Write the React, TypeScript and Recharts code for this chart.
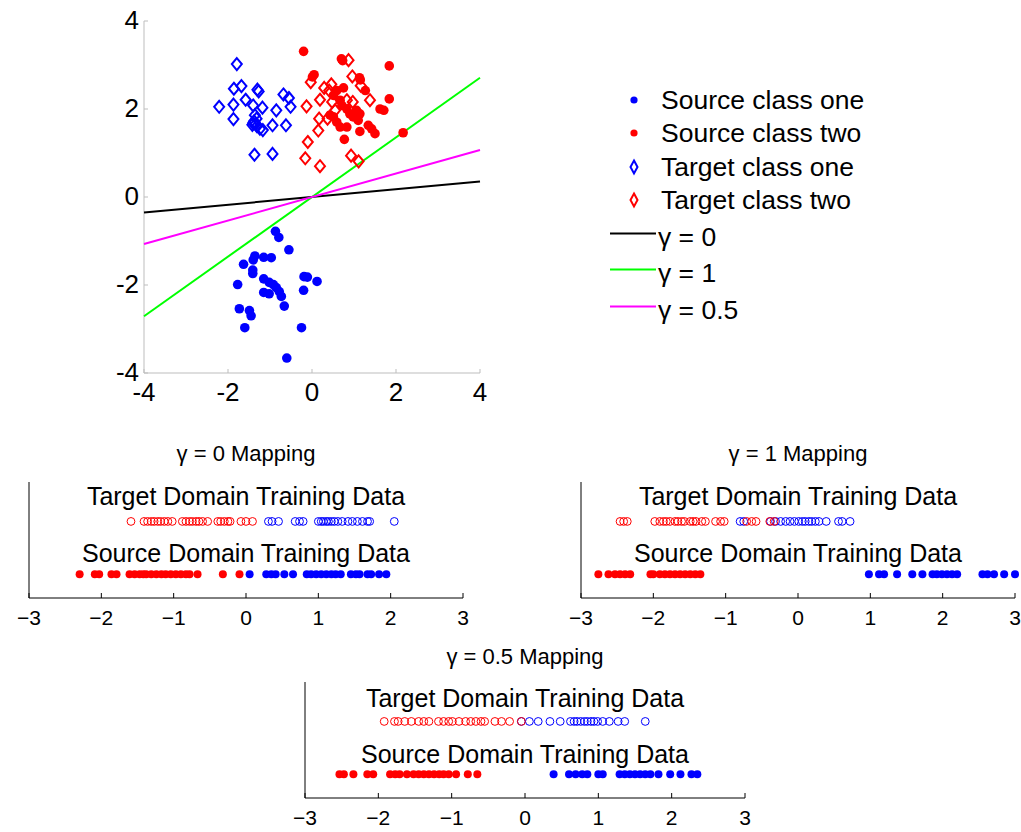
import React from 'react';
import { Legend, ReferenceLine, Scatter, ScatterChart, XAxis, YAxis } from 'recharts';

const FONT = '"Liberation Sans", Arial, Helvetica, sans-serif';
const BLUE = '#0000ff';
const RED = '#ff0000';
const GREEN = '#00ff00';
const MAGENTA = '#ff00ff';
const AXIS_GRAY = '#bdbdbd';

type Pt = [number, number];

// ---- 2-D source / target samples ----
const sourceClassOne: Pt[] = [
  [-0.87, -0.78], [-0.79, -0.92], [-0.55, -1.2], [-1.36, -1.34], [-1.4, -1.43],
  [-1.15, -1.37], [-0.97, -1.38], [-1.63, -1.53], [-1.41, -1.66], [-1.41, -1.74],
  [-1.15, -1.86], [-1.02, -1.94], [-0.92, -1.99], [-0.85, -2.06], [-0.78, -2.15],
  [-0.73, -2.26], [-1.15, -2.17], [-1.02, -2.2], [-1.77, -1.99], [-0.19, -1.81],
  [-0.11, -1.82], [0.12, -1.92], [-0.2, -2.12], [-1.73, -2.54], [-1.49, -2.58],
  [-1.45, -2.7], [-0.66, -2.48], [-1.6, -2.97], [-0.25, -2.97], [-0.6, -3.66],
];

const sourceClassTwo: Pt[] = [
  [-0.2, 3.31], [0.05, 2.78], [0.01, 2.73], [0.7, 3.14], [0.73, 3.1],
  [1.13, 2.71], [1.15, 2.66], [1.27, 2.42], [1.84, 2.98], [1.84, 2.23],
  [0.75, 2.48], [0.59, 2.42], [0.51, 2.31], [0.67, 2.2], [0.71, 2.08],
  [0.83, 2.0], [0.9, 1.89], [1.06, 1.97], [1.14, 1.89], [0.51, 1.82],
  [0.59, 1.7], [0.67, 1.59], [0.83, 1.59], [1.1, 1.74], [1.34, 1.63],
  [1.42, 1.55], [1.5, 1.44], [1.14, 1.49], [0.77, 1.31], [1.62, 2.0],
  [1.71, 1.97], [2.17, 1.46], [0.43, 1.86], [0.98, 1.82],
];

const targetClassOne: Pt[] = [
  [-1.79, 3.02], [-1.86, 2.46], [-1.68, 2.52], [-1.58, 2.21], [-1.3, 2.44],
  [-1.27, 2.4], [-0.68, 2.33], [-0.55, 2.25], [-0.51, 2.05], [-0.85, 1.97],
  [-1.18, 2.03], [-1.4, 2.08], [-2.21, 2.05], [-1.87, 2.1], [-1.87, 1.77],
  [-1.36, 1.86], [-1.32, 1.78], [-1.4, 1.68], [-1.24, 1.55], [-1.17, 1.52],
  [-0.94, 1.63], [-0.62, 1.63], [-1.37, 0.96], [-0.94, 0.98], [-1.38, 1.72],
  [-1.34, 1.66], [-1.42, 1.64], [-1.31, 1.61],
];

const targetClassTwo: Pt[] = [
  [0.87, 3.11], [-0.03, 2.61], [0.29, 2.48], [0.46, 2.56], [0.41, 2.42],
  [0.96, 2.74], [1.16, 2.53], [1.38, 2.2], [0.19, 2.21], [0.48, 2.16],
  [-0.13, 2.06], [0.97, 2.16], [0.37, 1.78], [0.17, 1.78], [0.15, 1.51],
  [-0.1, 1.25], [-0.16, 0.88], [0.19, 0.7], [0.93, 0.94], [1.11, 0.81],
  [0.55, 1.97], [0.83, 2.2],
];

// decision directions for the three γ settings
const gammaZeroLine: Pt[] = [[-4, -0.35], [4, 0.35]];
const gammaOneLine: Pt[] = [[-4, -2.71], [4, 2.71]];
const gammaHalfLine: Pt[] = [[-4, -1.07], [4, 1.07]];

const mainTicks = [-4, -2, 0, 2, 4];

// ---- 1-D projections ----
const stripTicks = [-3, -2, -1, 0, 1, 2, 3];
const TARGET_ROW = 0.66;
const SOURCE_ROW = 0.205;

const g0TargetRed = [
  -1.59, -1.41, -1.36, -1.31, -1.27, -1.22, -1.18, -1.13, -1.08, -1.02, -0.88, -0.83, -0.78,
  -0.74, -0.69, -0.65, -0.6, -0.53, -0.39, -0.35, -0.3, -0.25, -0.22, -0.07, 0.0, 0.09,
];
const g0TargetBlue = [
  0.31, 0.36, 0.45, 0.68, 0.74, 0.79, 1.0, 1.04, 1.07, 1.11, 1.14, 1.18, 1.22, 1.27, 1.33,
  1.41, 1.47, 1.54, 1.61, 1.68, 1.71, 2.05,
];
const g0SourceRed = [
  -2.3, -2.09, -2.03, -1.86, -1.79, -1.61, -1.54, -1.47, -1.42, -1.38, -1.31, -1.24, -1.17,
  -1.11, -1.04, -0.97, -0.9, -0.83, -0.78, -0.67, -0.32, -0.09,
];
const g0SourceBlue = [
  0.05, 0.28, 0.35, 0.41, 0.53, 0.65, 0.84, 0.9, 0.97, 1.04, 1.11, 1.18, 1.24, 1.31, 1.45,
  1.52, 1.57, 1.68, 1.73, 1.84, 1.94,
];

const g1TargetRed = [
  -2.46, -2.41, -2.36, -1.98, -1.91, -1.86, -1.82, -1.77, -1.7, -1.66, -1.61, -1.57, -1.49,
  -1.45, -1.41, -1.33, -1.28, -1.14, -1.07, -1.02, -0.71, -0.64, -0.58, -0.39, -0.33,
];
const g1TargetBlue = [
  -0.8, -0.75, -0.38, -0.31, -0.24, -0.17, -0.11, -0.05, 0.01, 0.06, 0.1, 0.15, 0.19, 0.24,
  0.29, 0.39, 0.56, 0.61, 0.72,
];
const g1SourceRed = [
  -2.76, -2.62, -2.53, -2.46, -2.39, -2.32, -2.04, -2.0, -1.91, -1.84, -1.77, -1.7, -1.63,
  -1.56, -1.49, -1.42, -1.35,
];
const g1SourceBlue = [
  0.98, 1.12, 1.19, 1.37, 1.58, 1.72, 1.86, 1.92, 1.99, 2.06, 2.13, 2.2, 2.55, 2.62, 2.71,
  2.85, 3.0,
];

const g05TargetRed = [
  -1.92, -1.78, -1.73, -1.64, -1.55, -1.45, -1.38, -1.31, -1.18, -1.11, -1.04, -0.99, -0.9,
  -0.81, -0.74, -0.67, -0.6, -0.55, -0.41, -0.32, -0.21, -0.05,
];
const g05TargetBlue = [
  -0.05, 0.06, 0.18, 0.34, 0.48, 0.62, 0.67, 0.71, 0.76, 0.81, 0.85, 0.9, 0.94, 0.99, 1.06,
  1.15, 1.27, 1.36, 1.64,
];
const g05SourceRed = [
  -2.53, -2.47, -2.34, -2.15, -2.07, -1.84, -1.77, -1.71, -1.61, -1.52, -1.45, -1.38, -1.31,
  -1.24, -1.17, -1.11, -1.04, -0.94, -0.78, -0.65,
];
const g05SourceBlue = [
  0.39, 0.6, 0.69, 0.78, 0.85, 1.0, 1.06, 1.29, 1.36, 1.43, 1.5, 1.57, 1.64, 1.71, 1.82, 1.98,
  2.12, 2.27, 2.35,
];

const toXY = (pts: Pt[]) => pts.map(([x, y]) => ({ x, y }));
const onRow = (xs: number[], y: number) => xs.map((x) => ({ x, y }));
const minus = (v: number) => (v < 0 ? `\u2212${-v}` : `${v}`);

// ---- marker shapes ----
const dot = (r: number, color: string) => (p: any) => (
  <circle cx={p.cx} cy={p.cy} r={r} fill={color} />
);
const ring = (r: number, color: string) => (p: any) => (
  <circle cx={p.cx} cy={p.cy} r={r} fill="none" stroke={color} strokeWidth={1} />
);
const diamond = (color: string) => (p: any) => (
  <polygon
    points={`${p.cx},${p.cy - 6} ${p.cx + 5},${p.cy} ${p.cx},${p.cy + 6} ${p.cx - 5},${p.cy}`}
    fill="none"
    stroke={color}
    strokeWidth={2}
  />
);
const noMarker = () => <g />;

// ---- axis ticks (drawn pointing into the plot) ----
function MainXTick({ x, y, payload }: any) {
  return (
    <g>
      <line x1={x} y1={y} x2={x} y2={y - 4} stroke={AXIS_GRAY} />
      <text x={x} y={y + 28} textAnchor="middle" fontSize={26} fontFamily={FONT} fill="#000">
        {payload.value}
      </text>
    </g>
  );
}

function MainYTick({ x, y, payload }: any) {
  return (
    <g>
      <line x1={x} y1={y} x2={x + 4} y2={y} stroke={AXIS_GRAY} />
      <text x={x - 5} y={y + 8} textAnchor="end" fontSize={26} fontFamily={FONT} fill="#000">
        {payload.value}
      </text>
    </g>
  );
}

function StripTick({ x, y, payload }: any) {
  return (
    <g>
      <line x1={x} y1={y} x2={x} y2={y - 5} stroke="#000" />
      <text x={x} y={y + 27} textAnchor="middle" fontSize={21} fontFamily={FONT} fill="#000">
        {minus(payload.value)}
      </text>
    </g>
  );
}

// ---- legend ----
const LEGEND_LEFT = 600;
const LEGEND_TOP = 80;

const markerRows = [
  { label: 'Source class one', y: 100, kind: 'dot', color: BLUE },
  { label: 'Source class two', y: 133, kind: 'dot', color: RED },
  { label: 'Target class one', y: 167, kind: 'diamond', color: BLUE },
  { label: 'Target class two', y: 200, kind: 'diamond', color: RED },
];
const lineRows = [
  { label: '\u03b3 = 0', y: 237, color: '#000' },
  { label: '\u03b3 = 1', y: 273, color: GREEN },
  { label: '\u03b3 = 0.5', y: 310, color: MAGENTA },
];

function LegendBox() {
  const text: React.CSSProperties = {
    position: 'absolute',
    fontSize: 26.5,
    lineHeight: '30px',
    fontFamily: FONT,
    color: '#000',
    whiteSpace: 'nowrap',
  };
  return (
    <div style={{ position: 'relative', width: 300, height: 250 }}>
      {markerRows.map((r) => (
        <div key={r.label}>
          <svg
            width={20}
            height={30}
            style={{ position: 'absolute', left: 24, top: r.y - LEGEND_TOP - 15 }}
          >
            {r.kind === 'dot' ? (
              <circle cx={10} cy={15} r={3.6} fill={r.color} />
            ) : (
              <polygon points="10,8.5 13.5,15 10,21.5 6.5,15" fill="none" stroke={r.color} strokeWidth={2} />
            )}
          </svg>
          <span style={{ ...text, left: 61, top: r.y - LEGEND_TOP - 15 }}>{r.label}</span>
        </div>
      ))}
      {lineRows.map((r) => (
        <div key={r.label}>
          <svg
            width={46}
            height={30}
            style={{ position: 'absolute', left: 10, top: r.y - LEGEND_TOP - 15 }}
          >
            <line x1={0} y1={11.5} x2={46} y2={11.5} stroke={r.color} strokeWidth={2} />
          </svg>
          <span style={{ ...text, left: 58, top: r.y - LEGEND_TOP - 15 }}>{r.label}</span>
        </div>
      ))}
    </div>
  );
}

function MainScatter() {
  return (
    <ScatterChart width={900} height={420} margin={{ top: 21, right: 420, bottom: 7, left: 84 }}>
      <XAxis
        type="number"
        dataKey="x"
        domain={[-4, 4]}
        ticks={mainTicks}
        interval={0}
        height={40}
        tickSize={0}
        tickMargin={0}
        tickLine={false}
        axisLine={{ stroke: AXIS_GRAY }}
        tick={<MainXTick />}
      />
      <YAxis
        type="number"
        dataKey="y"
        domain={[-4, 4]}
        ticks={mainTicks}
        interval={0}
        width={60}
        tickSize={0}
        tickMargin={0}
        tickLine={false}
        axisLine={{ stroke: AXIS_GRAY }}
        tick={<MainYTick />}
      />
      <Legend
        layout="vertical"
        align="center"
        verticalAlign="middle"
        wrapperStyle={{ left: LEGEND_LEFT, top: LEGEND_TOP, width: 300, height: 250 }}
        content={() => <LegendBox />}
      />
      <Scatter data={toXY(gammaZeroLine)} line={{ stroke: '#000', strokeWidth: 2 }} shape={noMarker} isAnimationActive={false} />
      <Scatter data={toXY(gammaOneLine)} line={{ stroke: GREEN, strokeWidth: 2 }} shape={noMarker} isAnimationActive={false} />
      <Scatter data={toXY(gammaHalfLine)} line={{ stroke: MAGENTA, strokeWidth: 2 }} shape={noMarker} isAnimationActive={false} />
      <Scatter data={toXY(targetClassOne)} shape={diamond(BLUE)} isAnimationActive={false} />
      <Scatter data={toXY(targetClassTwo)} shape={diamond(RED)} isAnimationActive={false} />
      <Scatter data={toXY(sourceClassOne)} shape={dot(4.8, BLUE)} isAnimationActive={false} />
      <Scatter data={toXY(sourceClassTwo)} shape={dot(4.8, RED)} isAnimationActive={false} />
    </ScatterChart>
  );
}

interface StripProps {
  left: number;
  top: number;
  width: number;
  marginLeft: number;
  marginRight: number;
  title: string;
  titleShift?: number;
  targetLabelY: number;
  sourceLabelY: number;
  targetRed: number[];
  targetBlue: number[];
  sourceRed: number[];
  sourceBlue: number[];
}

function MappingStrip(props: StripProps) {
  const { left, top, width, marginLeft, marginRight, title, titleShift = 0 } = props;
  const plotWidth = width - marginLeft - marginRight;
  const label = (value: string) => ({
    value,
    position: 'center' as const,
    fill: '#000',
    fontSize: 25,
    fontFamily: FONT,
  });
  return (
    <div style={{ position: 'absolute', left, top: top - 27, width }}>
      <div
        style={{
          position: 'absolute',
          left: marginLeft,
          width: plotWidth,
          top: titleShift,
          textAlign: 'center',
          fontSize: 22,
          lineHeight: '22px',
          fontFamily: FONT,
          color: '#000',
          whiteSpace: 'nowrap',
        }}
      >
        {title}
      </div>
      <div style={{ position: 'absolute', left: 0, top: 27 }}>
        <ScatterChart
          width={width}
          height={170}
          margin={{ top: 12, right: marginRight, bottom: 12, left: marginLeft }}
        >
          <XAxis
            type="number"
            dataKey="x"
            domain={[-3, 3]}
            ticks={stripTicks}
            interval={0}
            height={30}
            tickSize={0}
            tickMargin={0}
            tickLine={false}
            axisLine={{ stroke: '#000' }}
            tick={<StripTick />}
          />
          <YAxis type="number" dataKey="y" domain={[0, 1]} hide />
          <ReferenceLine x={-3} stroke="#000" />
          <ReferenceLine y={props.targetLabelY} stroke="none" label={label('Target Domain Training Data')} />
          <ReferenceLine y={props.sourceLabelY} stroke="none" label={label('Source Domain Training Data')} />
          <Scatter data={onRow(props.targetBlue, TARGET_ROW)} shape={ring(3.9, BLUE)} isAnimationActive={false} />
          <Scatter data={onRow(props.targetRed, TARGET_ROW)} shape={ring(3.9, RED)} isAnimationActive={false} />
          <Scatter data={onRow(props.sourceBlue, SOURCE_ROW)} shape={dot(4, BLUE)} isAnimationActive={false} />
          <Scatter data={onRow(props.sourceRed, SOURCE_ROW)} shape={dot(4, RED)} isAnimationActive={false} />
        </ScatterChart>
      </div>
    </div>
  );
}

export default function App() {
  return (
    <div
      style={{
        position: 'absolute',
        left: 0,
        top: 0,
        width: 1021,
        height: 832,
        background: '#fff',
        overflow: 'hidden',
        fontFamily: FONT,
      }}
    >
      <div style={{ position: 'absolute', left: 0, top: 0 }}>
        <MainScatter />
      </div>
      <MappingStrip
        left={0}
        top={470}
        width={480}
        marginLeft={29}
        marginRight={17}
        title={'\u03b3 = 0 Mapping'}
        targetLabelY={0.88}
        sourceLabelY={0.39}
        targetRed={g0TargetRed}
        targetBlue={g0TargetBlue}
        sourceRed={g0SourceRed}
        sourceBlue={g0SourceBlue}
      />
      <MappingStrip
        left={560}
        top={470}
        width={461}
        marginLeft={21}
        marginRight={6}
        title={'\u03b3 = 1 Mapping'}
        targetLabelY={0.88}
        sourceLabelY={0.39}
        targetRed={g1TargetRed}
        targetBlue={g1TargetBlue}
        sourceRed={g1SourceRed}
        sourceBlue={g1SourceBlue}
      />
      <MappingStrip
        left={280}
        top={670}
        width={480}
        marginLeft={25}
        marginRight={15}
        title={'\u03b3 = 0.5 Mapping'}
        titleShift={3}
        targetLabelY={0.86}
        sourceLabelY={0.375}
        targetRed={g05TargetRed}
        targetBlue={g05TargetBlue}
        sourceRed={g05SourceRed}
        sourceBlue={g05SourceBlue}
      />
    </div>
  );
}
